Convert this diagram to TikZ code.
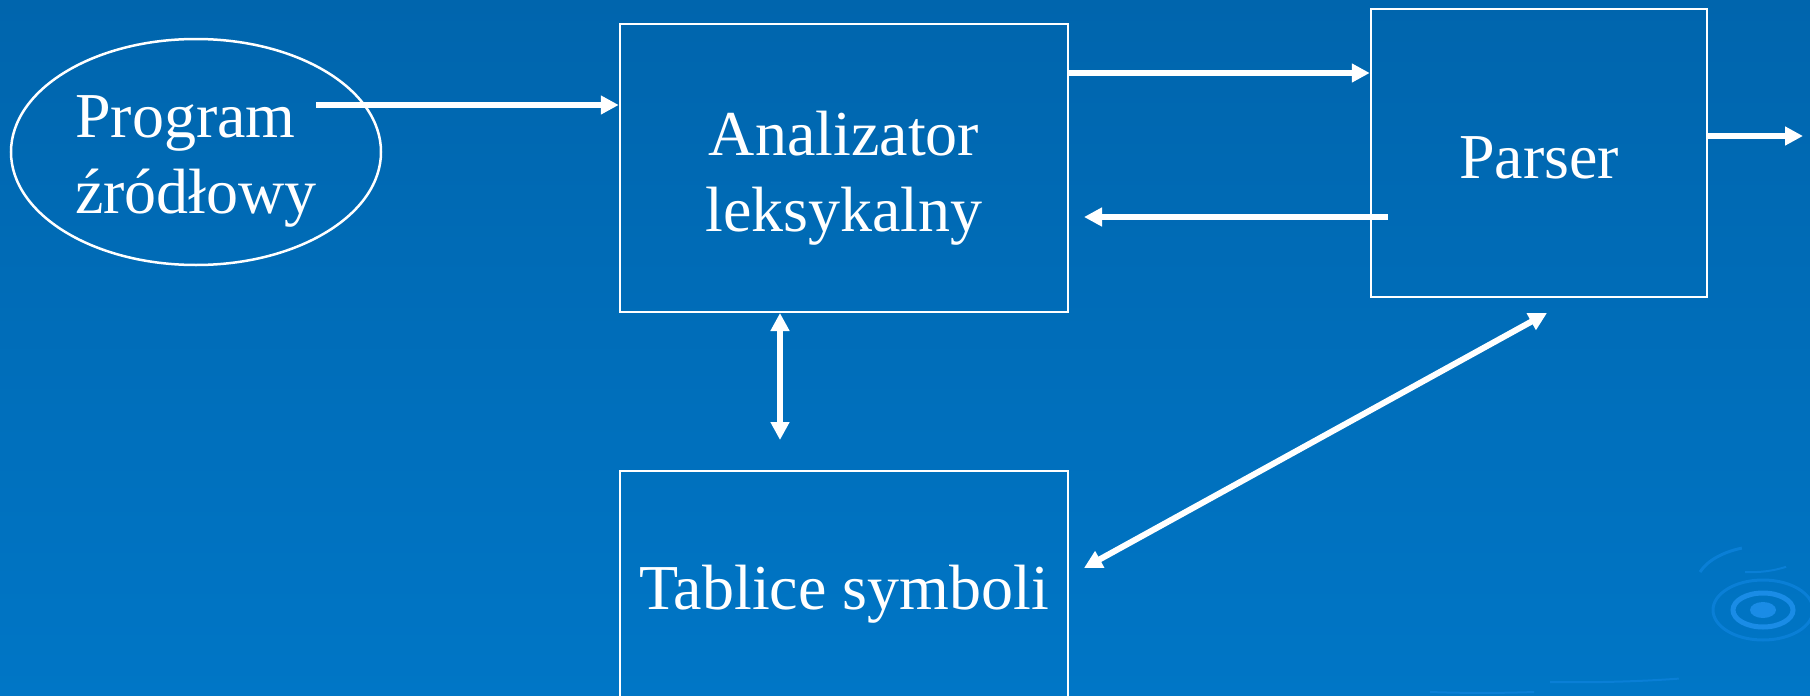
\documentclass[tikz,border=0pt]{standalone}
\usepackage{fontspec}
\setmainfont{Liberation Serif}
\usetikzlibrary{arrows.meta,shapes.geometric}
\definecolor{bgtop}{HTML}{0065AD}
\definecolor{bgbot}{HTML}{0076C6}
\definecolor{ripA}{HTML}{1A8CE6}
\definecolor{ripB}{HTML}{0A7FD6}
\tikzset{
  box/.style={draw=white, line width=2.5pt, inner sep=0pt},
  oval/.style={ellipse, draw=white, line width=2.5pt, inner sep=0pt},
  lbl/.style={text=white, align=center, inner sep=0pt, font=\fontsize{64}{76}\selectfont},
  arr/.style={draw=white, line width=6pt, -{Triangle[length=18pt,width=18pt]}},
  darr/.style={draw=white, line width=6pt, {Triangle[length=18pt,width=18pt]}-{Triangle[length=18pt,width=18pt]}},
}
\begin{document}
\begin{tikzpicture}[x=1pt,y=-1pt]
\useasboundingbox (0,0) rectangle (1810,696);
\shade[top color=bgtop, bottom color=bgbot] (0,0) rectangle (1810,696);
% ripple decoration
\begin{scope}
\clip (0,0) rectangle (1810,696);
\fill[ripA] (1763,610) ellipse (13 and 8);
\draw[ripA, line width=5pt] (1763,610) ellipse (30 and 17);
\draw[ripB, line width=3pt] (1763,610) ellipse (50 and 30);
\draw[ripB, line width=3pt] (1700,572) arc (200:250:70 and 40);
\draw[ripB, line width=2pt] (1745,572) arc (95:60:70 and 40);
\draw[ripB, line width=2pt] (1430,692) arc (100:80:300 and 60);
\draw[ripB, line width=2pt] (1550,682) arc (95:70:300 and 60);
\end{scope}
\node[oval, minimum width=370pt, minimum height=226pt] (src) at (196,152) {};
\node[box, minimum width=448pt, minimum height=288pt] (lex) at (844,168) {};
\node[box, minimum width=336pt, minimum height=288pt] (par) at (1539,153) {};
\node[box, minimum width=448pt, minimum height=240pt] (tab) at (844,591) {};
\node[lbl, align=left] (srcT) at ([yshift=-9pt]src.center) {Program\\źródłowy};
\node[lbl] (lexT) at ([yshift=-10pt]lex.center) {Analizator\\leksykalny};
\node[lbl] (parT) at ([yshift=-5pt]par.center) {Parser};
\node[lbl] (tabT) at ([yshift=-3pt]tab.center) {Tablice symboli};
\coordinate (s1) at (316,105);
\coordinate (po) at (1803,136);
\coordinate (pb) at (1388,217);
\coordinate (lb) at (1084,217);
\coordinate (d1) at (1084,568);
\coordinate (d2) at (1547,313);
\coordinate (v1) at (780,313);
\coordinate (v2) at (780,440);
\draw[arr] (s1) -- (s1 -| lex.west);
\draw[arr] (lex.east |- 0,73) -- (par.west |- 0,73);
\draw[arr] (pb) -- (lb);
\draw[arr] (par.east |- po) -- (po);
\draw[darr] (v1) -- (v2);
\draw[darr] (d1) -- (d2);
\end{tikzpicture}
\end{document}
